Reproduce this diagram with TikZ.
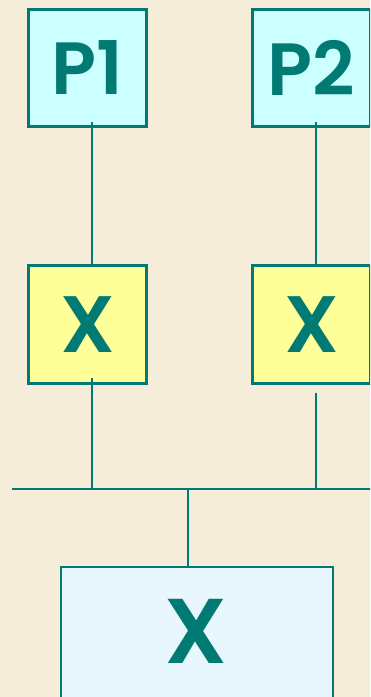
\documentclass[tikz,border=0pt]{standalone}
\usepackage{fontspec}
\setmainfont{Poppins}[UprightFont=* SemiBold]
\definecolor{bg}{HTML}{F5ECDA}
\definecolor{teal}{HTML}{007A73}
\definecolor{cyanbox}{HTML}{CCFFFF}
\definecolor{yelbox}{HTML}{FFFF99}
\definecolor{palebox}{HTML}{E8F6FE}
\begin{document}
\begin{tikzpicture}[x=1pt,y=-1pt,
  boxa/.style={draw=teal,line width=3pt,fill=cyanbox,minimum width=118pt,minimum height=117pt,inner sep=0pt,text=teal,font=\fontsize{74}{74}\selectfont},
  boxb/.style={draw=teal,line width=3pt,fill=yelbox,minimum width=118pt,minimum height=118pt,inner sep=0pt,text=teal,font=\fontsize{80}{80}\selectfont},
  boxc/.style={draw=teal,line width=2pt,fill=palebox,minimum width=272pt,minimum height=132pt,inner sep=0pt},
  bigx/.style={text=teal,font=\fontsize{92}{92}\selectfont,inner sep=0pt},
  wire/.style={draw=teal,line width=1.6pt}]
\useasboundingbox (0,0) rectangle (370,697);
\clip (0,0) rectangle (370,697);
\fill[bg] (0,0) rectangle (370,697);
\node[boxa] (p1) at (87.5,68) {P1};
\node[boxa] (p2) at (311.5,68) {P2};
\node[boxb] (x1) at (87.5,324.5) {X};
\node[boxb] (x2) at (311.5,324.5) {X};
\node[boxc] (x3) at (196.5,633) {};
\node[bigx] (x3t) at (196,631) {X};
\coordinate (busl) at (12,489);
\coordinate (busr) at (372,489);
\coordinate (b1) at (92,489);
\coordinate (b2) at (316,489);
\coordinate (b3) at (188,489);
\draw[wire] (busl) -- (busr);
\draw[wire] (92,122) -- (92,264);
\draw[wire] (316,122) -- (316,264);
\draw[wire] (92,378) -- (b1);
\draw[wire] (316,393) -- (b2);
\draw[wire] (b3) -- (x3.north -| b3);
\end{tikzpicture}
\end{document}
